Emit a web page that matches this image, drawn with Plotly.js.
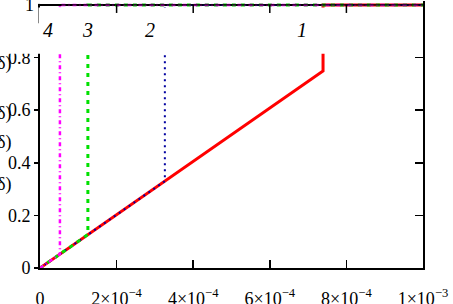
<!DOCTYPE html>
<html>
<head>
<meta charset="utf-8">
<script src="https://cdn.plot.ly/plotly-3.0.1.min.js"></script>
<style>html,body{margin:0;padding:0;background:#fff;}#chart{width:453px;height:304px;}</style>
</head>
<body>
<div id="chart"></div>
<script>
// Curve data (x, y)
const curve1X = [0, 7.39e-4, 7.39e-4, 1e-3];
const curve1Y = [0, 0.749, 1, 1];
const curve2X = [0, 3.26e-4, 3.26e-4, 1e-3];
const curve2Y = [0, 0.330, 1, 1];
const curve3X = [0, 1.25e-4, 1.25e-4, 1e-3];
const curve3Y = [0, 0.127, 1, 1];
const curve4X = [0, 0.52e-4, 0.52e-4, 1e-3];
const curve4Y = [0, 0.053, 1, 1];

const curveLabels = ['1', '2', '3', '4'];
const curveLabelX = [6.85e-4, 2.88e-4, 1.25e-4, 0.2e-4];

const xTickVals = [0, 2e-4, 4e-4, 6e-4, 8e-4, 1e-3];
const xTickText = ['0', '2×10<sup>−4</sup>', '4×10<sup>−4</sup>', '6×10<sup>−4</sup>', '8×10<sup>−4</sup>', '1×10<sup>−3</sup>'];
const yTickVals = [0, 0.2, 0.4, 0.6, 0.8];
const yTickText = ['0', '0.2', '0.4', '0.6', '0.8'];
const yTopVal = 1;
const yTopText = '1';
const yRightTickVals = [0.2, 0.4, 0.6, 0.8];

const sideTexts = ['δ)', 'δ)', 'δ)', 'δ)'];
const sideTextY = [0.779, 0.589, 0.479, 0.316];

const font = {family: 'Liberation Serif, Times New Roman, serif', size: 18, color: '#000'};
const yMax = 1.015;
const topTickLen = 8 / 263;

const traces = [
  {x: curve1X, y: curve1Y, mode: 'lines', line: {color: '#ff0000', width: 3}},
  {x: curve2X, y: curve2Y, mode: 'lines', line: {color: '#0000a0', width: 2, dash: '2px,4px'}},
  {x: curve3X, y: curve3Y, mode: 'lines', line: {color: '#00e000', width: 3, dash: '4px,5px'}},
  {x: curve4X, y: curve4Y, mode: 'lines', line: {color: '#ff00ff', width: 2.5, dash: '4px,3px,1px,3px'}},
  {x: [0], y: [0], xaxis: 'x', yaxis: 'y2', mode: 'markers', marker: {opacity: 0}, hoverinfo: 'skip'}
];

const annotations = [];
curveLabels.forEach((t, i) => {
  annotations.push({x: curveLabelX[i], y: 0.905, xref: 'x', yref: 'y', text: '<i>' + t + '</i>',
    showarrow: false, font: {family: font.family, size: 20, color: '#000'}});
});
sideTexts.forEach((t, i) => {
  annotations.push({x: -0.071, y: sideTextY[i], xref: 'paper', yref: 'y', text: t, xanchor: 'right',
    showarrow: false, font: font});
});
annotations.push({x: -0.01, y: yTopVal, xref: 'paper', yref: 'y', text: yTopText, xanchor: 'right',
  showarrow: false, font: font});

const shapes = [
  {type: 'line', xref: 'x', yref: 'y', x0: 0, x1: 1e-3, y0: 1, y1: 1, layer: 'below',
    line: {color: '#000', width: 2}},
  {type: 'rect', xref: 'paper', yref: 'y', x0: -0.1, x1: 0.994, y0: 0.814, y1: 0.93, layer: 'above',
    fillcolor: '#fff', line: {width: 0}},
  {type: 'rect', xref: 'paper', yref: 'y', x0: -0.004, x1: 0.994, y0: 0.9, y1: 0.99, layer: 'above',
    fillcolor: '#fff', line: {width: 0}},
  {type: 'rect', xref: 'paper', yref: 'y', x0: -0.006, x1: 0.006, y0: 1.004, y1: 1.02, layer: 'above',
    fillcolor: '#fff', line: {width: 0}},
  {type: 'line', xref: 'x', yref: 'y', x0: 0, x1: 1e-3, y0: 1, y1: 1, layer: 'above',
    line: {color: '#000', width: 1.2}}
];
xTickVals.slice(1, 5).forEach(v => {
  shapes.push({type: 'line', xref: 'x', yref: 'y', x0: v, x1: v, y0: 1, y1: 1 - topTickLen, layer: 'above',
    line: {color: '#000', width: 1.5}});
});

const layout = {
  width: 453, height: 304,
  margin: {l: 40, r: 30, t: 1, b: 36},
  paper_bgcolor: '#fff', plot_bgcolor: '#fff',
  showlegend: false,
  font: font,
  xaxis: {range: [0, 1e-3], tickvals: xTickVals, ticktext: xTickText, ticks: 'inside', ticklen: 8,
    tickwidth: 1.5, tickcolor: '#000', showline: true, linecolor: '#000', linewidth: 2,
    showgrid: false, zeroline: false, ticklabelstandoff: 13, tickfont: font},
  yaxis: {range: [0, yMax], tickvals: yTickVals, ticktext: yTickText, ticks: 'outside', ticklen: 4,
    tickwidth: 1.5, tickcolor: '#000', showline: true, linecolor: '#000', linewidth: 2,
    showgrid: false, zeroline: false, tickfont: font, ticklabelstandoff: 0},
  yaxis2: {range: [0, yMax], overlaying: 'y', side: 'right', tickvals: yRightTickVals, ticks: 'inside',
    ticklen: 8, tickwidth: 1.5, tickcolor: '#000', showticklabels: false, showline: true,
    linecolor: '#000', linewidth: 2, showgrid: false, zeroline: false},
  shapes: shapes,
  annotations: annotations
};

Plotly.newPlot('chart', traces, layout, {staticPlot: true, displayModeBar: false});
</script>
</body>
</html>
